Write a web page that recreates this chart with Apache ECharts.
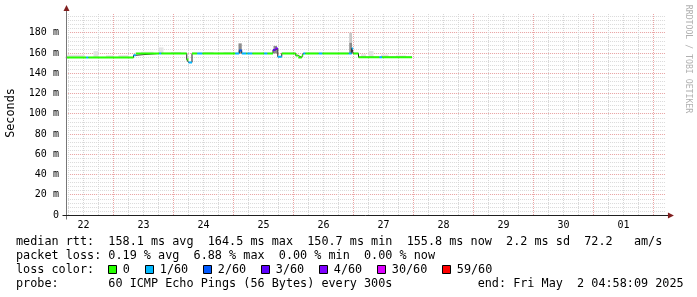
<!DOCTYPE html>
<html><head><meta charset="utf-8">
<script src="https://cdn.jsdelivr.net/npm/echarts@6/dist/echarts.min.js"></script>
<style>html,body{margin:0;padding:0;background:#fff}#c{width:697px;height:297px}</style>
</head><body><div id="c"></div>
<script>
// x values: hours since 2025-04-22 00:00
const xMin = 4.97, xMax = 244.97;
const yMax = 199.5;
const dayLabels = ['22','23','24','25','26','27','28','29','30','01'];
const dayLabelHours = [12,36,60,84,108,132,156,180,204,228];

// median rtt (ms) step points: start hour, value, loss class
const medHours  = [4.97,13.1,13.9,32.0,32.9,42.3,43.1,53.3,54.0,55.4,57.5,59.5,72.7,74.3,75.3,77.1,77.5,79.5,84.3,85.5,87.8,88.7,89.7,91.3,96.9,97.9,99.3,99.9,100.7,106.1,107.5,118.1,119.3,119.9,122.0,130.4,131.4];
const medValues = [155.6,155.6,155.6,157.8,159.6,159.6,159.6,153.5,150.7,159.6,159.6,159.6,159.6,162.5,159.6,159.6,159.6,159.6,159.6,159.6,163.0,164.5,156.3,159.6,157.5,155.6,157.5,159.6,159.6,159.6,159.6,159.6,164.5,159.6,155.8,155.8,155.8];
const medLoss   = [0,1,0,1,0,1,0,0,1,0,1,0,1,2,1,0,1,0,1,0,3,4,1,0,0,0,0,1,0,1,0,1,1,0,0,1,0];
const medEnd = 143.4;

// smoke (ping spread): start hour, end hour, low, high, shade
const smokeStart = [5.5,16.0,21.0,26.0,35.0,42.0,47.0,60.0,68.0,74.0,88.0,118.3,118.3,123.0,126.0,131.0,137.0];
const smokeEnd   = [12.5,18.0,24.0,30.0,40.0,44.0,51.0,64.0,71.0,75.3,89.4,119.4,119.4,125.0,128.0,134.0,141.0];
const smokeLow   = [155.6,155.6,155.6,155.6,159.6,159.6,159.6,159.6,159.6,159.6,159.6,170.0,159.6,155.8,155.8,155.8,155.8];
const smokeHigh  = [158.3,161.8,157.6,157.8,161.2,165.5,161.0,161.0,160.8,169.5,167.0,180.0,170.0,158.8,162.0,158.5,157.5];
const smokeShade = [0,0,0,0,0,0,0,0,0,2,2,1,2,0,0,0,0];
const shadeColors = ['#e4e4e4','#c8c8c8','#8c8c8c'];

const lossLabels = ['0','1/60','2/60','3/60','4/60','30/60','59/60'];
const lossColors = ['#26ff00','#00b8ff','#0059ff','#5e00ff','#7e00ff','#dd00ff','#ff0000'];

const legendLine1 = 'median rtt:  158.1 ms avg  164.5 ms max  150.7 ms min  155.8 ms now  2.2 ms sd  72.2   am/s';
const legendLine2 = 'packet loss: 0.19 % avg  6.88 % max  0.00 % min  0.00 % now';
const legendLine4 = 'probe:       60 ICMP Echo Pings (56 Bytes) every 300s            end: Fri May  2 04:58:09 2025';

const MONO = '"DejaVu Sans Mono", monospace';
const G = {left: 65.925, top: 13, width: 600, height: 202};

const chart = echarts.init(document.getElementById('c'));

function segs(cls) {
  const out = [];
  for (let i = 0; i < medHours.length; i++) {
    if (medLoss[i] !== cls) continue;
    const h1 = i + 1 < medHours.length ? medHours[i + 1] : medEnd;
    out.push([medHours[i], medValues[i]], [h1, medValues[i]], [h1, null]);
  }
  return out;
}
const stepData = medHours.map((h, i) => [h, medValues[i]]).concat([[medEnd, medValues[medValues.length - 1]]]);
const smokeData = smokeStart.map((s, i) => [s, smokeEnd[i], smokeLow[i], smokeHigh[i], smokeShade[i]]);

const gridHours = [];
for (let h = 6; h < xMax; h += 6) gridHours.push(h);

const series = [
  {
    type: 'custom', z: 2, silent: true, data: smokeData,
    renderItem: function (params, api) {
      const p0 = api.coord([api.value(0), api.value(3)]);
      const p1 = api.coord([api.value(1), api.value(2)]);
      return {type: 'rect', shape: {x: p0[0], y: p0[1], width: p1[0] - p0[0], height: p1[1] - p0[1]},
        style: {fill: shadeColors[api.value(4)]}};
    },
    markLine: {
      silent: true, z: 1, symbol: ['none', 'none'], label: {show: false}, animation: false,
      data: gridHours.map(h => ({xAxis: h, lineStyle: {color: h % 24 === 0 ? '#eba3a3' : '#d6d6d6', type: [1, 1], width: 1}}))
    }
  },
  {type: 'line', z: 3, step: 'end', data: stepData, symbol: 'none', silent: true,
   lineStyle: {color: '#222', width: 1}}
];
lossColors.forEach((c, k) => {
  series.push({type: 'line', z: 4, data: segs(k), symbol: 'none', silent: true, connectNulls: false,
    lineStyle: {color: c, width: 2, cap: 'butt'}});
});

const graphics = [];
const lt = (x, y, text, extra) => Object.assign({type: 'text', x: x, y: y, z: 100,
  style: {text: text, font: '11.8px ' + MONO, fill: '#000', verticalAlign: 'middle'}}, extra || {});
graphics.push(lt(16, 242, legendLine1), lt(16, 256, legendLine2), lt(16, 270, 'loss color:'), lt(16, 284, legendLine4));
let bx = 108.3;
lossLabels.forEach((lab, k) => {
  graphics.push({type: 'rect', z: 100, shape: {x: Math.round(bx) + 0.5, y: 265.5, width: 8, height: 8},
    style: {fill: lossColors[k], stroke: '#000', lineWidth: 1}});
  graphics.push(lt(bx + 14.5, 270, lab));
  bx += lab.length * 7 + 30;
});
// axes lines and arrows
const x0 = Math.round(G.left) + 0.5, yb = G.top + G.height + 0.5, xr = G.left + G.width;
graphics.push({type: 'line', z: 90, shape: {x1: x0, y1: yb + 4, x2: x0, y2: 8}, style: {stroke: '#777', lineWidth: 1}});
graphics.push({type: 'line', z: 90, shape: {x1: x0 - 4, y1: yb, x2: xr + 3, y2: yb}, style: {stroke: '#1f1f1f', lineWidth: 1}});
graphics.push({type: 'polygon', z: 91, shape: {points: [[x0 - 3, 11], [x0 + 3, 11], [x0, 5]]}, style: {fill: '#801f1f'}});
graphics.push({type: 'polygon', z: 91, shape: {points: [[xr + 2, yb - 3], [xr + 2, yb + 3], [xr + 8, yb]]}, style: {fill: '#801f1f'}});
graphics.push({type: 'text', x: 11, y: 113, rotation: Math.PI / 2, z: 100,
  style: {text: 'Seconds', font: '11.8px ' + MONO, fill: '#000', align: 'center', verticalAlign: 'middle'}});
graphics.push({type: 'text', x: 688, y: 59, rotation: -Math.PI / 2, z: 100,
  style: {text: 'RRDTOOL / TOBI OETIKER', font: '8.2px ' + MONO, fill: '#b0b0b0', align: 'center', verticalAlign: 'middle'}});

chart.setOption({
  animation: false,
  backgroundColor: '#fff',
  grid: {left: G.left, top: G.top, width: G.width, height: G.height, containLabel: false},
  xAxis: {
    type: 'value', min: xMin, max: xMax,
    axisLine: {show: false}, axisTick: {show: false}, splitLine: {show: false},
    axisLabel: {customValues: dayLabelHours, formatter: v => dayLabels[dayLabelHours.indexOf(v)] || '',
      fontFamily: MONO, fontSize: 10, color: '#000', margin: 5}
  },
  yAxis: [
    {type: 'value', min: 0, max: yMax, interval: 4,
     axisLine: {show: false}, axisTick: {show: false}, axisLabel: {show: false},
     splitLine: {show: true, showMinLine: false, showMaxLine: false, lineStyle: {color: '#dadada', type: [1, 1], width: 1}}},
    {type: 'value', min: 0, max: yMax, interval: 20, position: 'left',
     axisLine: {show: false}, axisTick: {show: false},
     axisLabel: {formatter: v => (v % 20 !== 0 ? '' : (v === 0 ? '0' : v + ' m')), showMaxLabel: false,
       fontFamily: MONO, fontSize: 10, color: '#000', margin: 7, padding: [4, 0, 0, 0]},
     splitLine: {show: true, showMinLine: false, showMaxLine: false, lineStyle: {color: '#eba3a3', type: [1, 1], width: 1}}}
  ],
  series: series,
  graphic: graphics
});
</script>
</body></html>
